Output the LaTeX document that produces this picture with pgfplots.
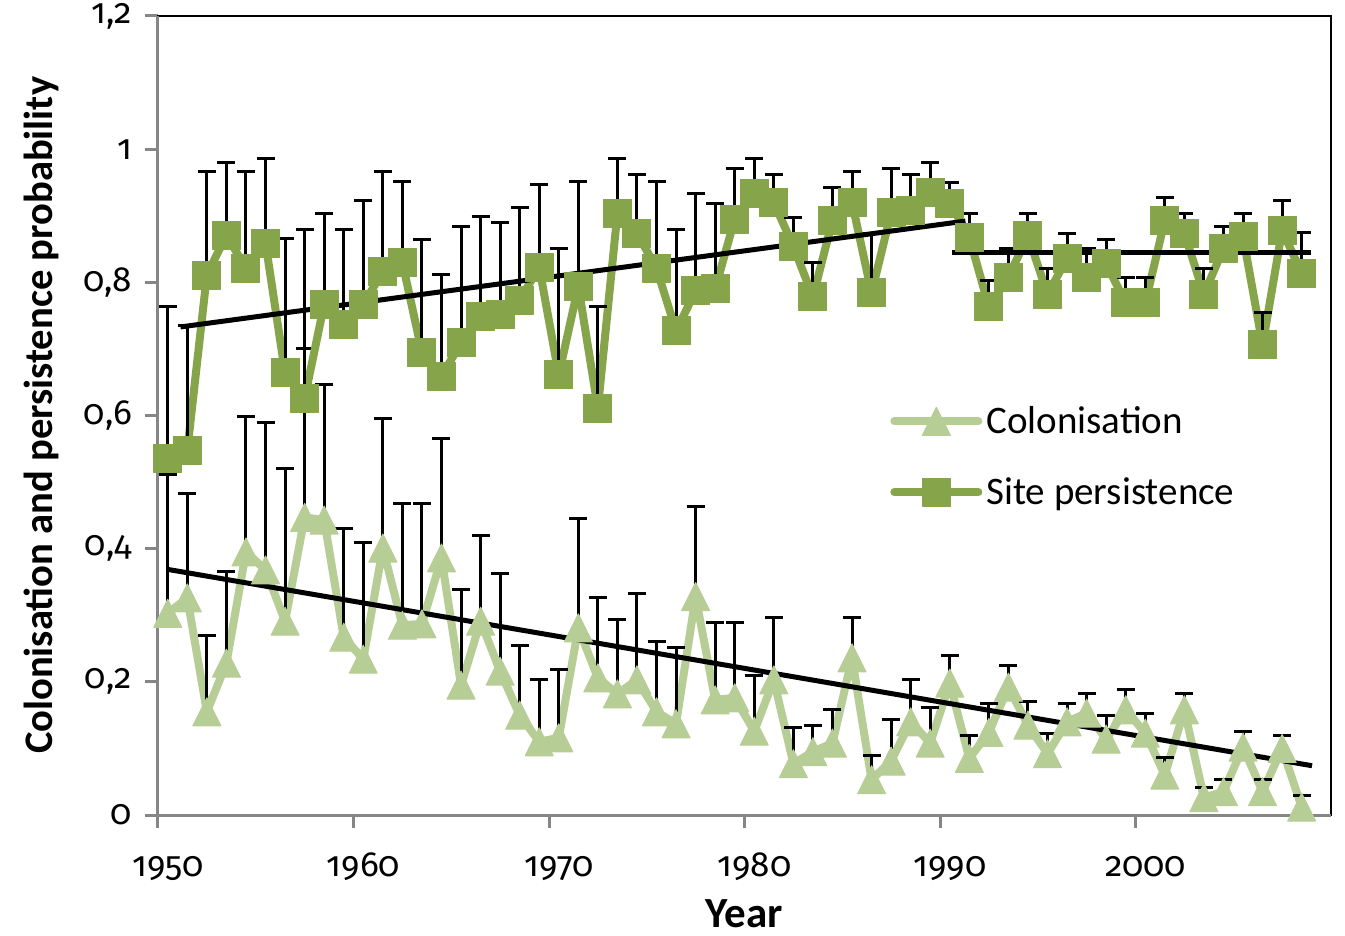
\documentclass[border=0pt]{standalone}
\usepackage{fontspec}
\setmainfont{Carlito}
\newfontfamily\tickfont[Numbers=OldStyle]{Fira Sans}
\usepackage{pgfplots}
\pgfplotsset{compat=1.18}
\usepackage{pgfplotstable}

\definecolor{colgreen}{RGB}{183,205,150}
\definecolor{persgreen}{RGB}{134,164,74}
\definecolor{axisgray}{RGB}{134,134,134}

% isosceles triangle as wide as it is tall, centred on the point
\pgfdeclareplotmark{xltri}{%
  \pgfpathmoveto{\pgfqpoint{0pt}{\pgfplotmarksize}}%
  \pgfpathlineto{\pgfqpoint{-\pgfplotmarksize}{-\pgfplotmarksize}}%
  \pgfpathlineto{\pgfqpoint{\pgfplotmarksize}{-\pgfplotmarksize}}%
  \pgfpathclose\pgfusepathqfillstroke}

% year, mean probability, top of the error bar
\pgfplotstableread{
x y up
1950.5 0.303 0.512
1951.5 0.326 0.483
1952.5 0.155 0.269
1953.5 0.228 0.366
1954.5 0.395 0.599
1955.5 0.368 0.589
1956.5 0.291 0.521
1957.5 0.447 0.700
1958.5 0.443 0.647
1959.5 0.267 0.431
1960.5 0.234 0.410
1961.5 0.401 0.595
1962.5 0.285 0.468
1963.5 0.287 0.468
1964.5 0.386 0.566
1965.5 0.195 0.338
1966.5 0.291 0.420
1967.5 0.216 0.363
1968.5 0.150 0.255
1969.5 0.110 0.203
1970.5 0.116 0.218
1971.5 0.281 0.446
1972.5 0.206 0.327
1973.5 0.182 0.294
1974.5 0.203 0.333
1975.5 0.155 0.260
1976.5 0.137 0.251
1977.5 0.328 0.463
1978.5 0.173 0.289
1979.5 0.176 0.289
1980.5 0.126 0.210
1981.5 0.203 0.296
1982.5 0.077 0.131
1983.5 0.095 0.135
1984.5 0.108 0.159
1985.5 0.236 0.296
1986.5 0.053 0.090
1987.5 0.081 0.144
1988.5 0.140 0.203
1989.5 0.108 0.161
1990.5 0.198 0.240
1991.5 0.085 0.120
1992.5 0.124 0.168
1993.5 0.192 0.225
1994.5 0.135 0.170
1995.5 0.092 0.123
1996.5 0.140 0.168
1997.5 0.153 0.183
1998.5 0.114 0.150
1999.5 0.158 0.188
2000.5 0.123 0.153
2001.5 0.060 0.086
2002.5 0.158 0.183
2003.5 0.026 0.042
2004.5 0.035 0.054
2005.5 0.102 0.125
2006.5 0.035 0.054
2007.5 0.100 0.120
2008.5 0.012 0.029
}\colonisation

\pgfplotstableread{
x y up
1950.5 0.536 0.764
1951.5 0.548 0.735
1952.5 0.811 0.967
1953.5 0.871 0.980
1954.5 0.821 0.967
1955.5 0.859 0.986
1956.5 0.664 0.866
1957.5 0.626 0.880
1958.5 0.767 0.904
1959.5 0.736 0.880
1960.5 0.766 0.923
1961.5 0.817 0.967
1962.5 0.830 0.952
1963.5 0.695 0.865
1964.5 0.659 0.812
1965.5 0.709 0.884
1966.5 0.749 0.899
1967.5 0.751 0.890
1968.5 0.773 0.913
1969.5 0.823 0.947
1970.5 0.661 0.851
1971.5 0.794 0.952
1972.5 0.611 0.764
1973.5 0.904 0.986
1974.5 0.874 0.962
1975.5 0.821 0.952
1976.5 0.727 0.880
1977.5 0.787 0.934
1978.5 0.790 0.919
1979.5 0.895 0.971
1980.5 0.934 0.986
1981.5 0.920 0.962
1982.5 0.854 0.898
1983.5 0.778 0.830
1984.5 0.893 0.943
1985.5 0.920 0.967
1986.5 0.784 0.874
1987.5 0.905 0.971
1988.5 0.908 0.962
1989.5 0.935 0.980
1990.5 0.919 0.950
1991.5 0.868 0.904
1992.5 0.763 0.802
1993.5 0.808 0.851
1994.5 0.870 0.904
1995.5 0.782 0.821
1996.5 0.836 0.874
1997.5 0.808 0.851
1998.5 0.828 0.865
1999.5 0.769 0.808
2000.5 0.769 0.808
2001.5 0.893 0.928
2002.5 0.874 0.904
2003.5 0.782 0.821
2004.5 0.851 0.884
2005.5 0.869 0.904
2006.5 0.706 0.754
2007.5 0.878 0.923
2008.5 0.814 0.875
}\persistence

\begin{document}
\begin{tikzpicture}
\begin{axis}[
  scale only axis,
  width=586.5bp, height=399.5bp,
  xmin=1950, xmax=2010, ymin=0, ymax=1.2,
  xtick={1950,1960,1970,1980,1990,2000},
  xticklabels={1950,1960,1970,1980,1990,2000},
  ytick={0,0.2,0.4,0.6,0.8,1,1.2},
  yticklabels={0,{0,2},{0,4},{0,6},{0,8},1,{1,2}},
  tick align=outside, tick pos=left,
  major tick length=6.5bp,
  tick style={axisgray, line width=1.5bp},
  axis line style={black, line width=1bp},
  ticklabel style={font=\tickfont\fontsize{17.5bp}{20bp}\selectfont},
  xticklabel style={anchor=base, yshift=-24bp, xshift=5bp},
  yticklabel style={anchor=east, xshift=-3bp},
  xlabel={Year},
  ylabel={Colonisation and persistence probability},
  xlabel style={font=\bfseries\fontsize{21.5bp}{25bp}\selectfont,
    at={([yshift=-56bp]rel axis cs:0.5,0)}, anchor=base},
  ylabel style={font=\bfseries\fontsize{20.3bp}{24bp}\selectfont,
    at={([xshift=-58.5bp]rel axis cs:0,0.5)}, anchor=center},
  clip=false,
  legend image code/.code={%
    \draw[mark repeat=2, mark phase=2, line cap=round, #1]
      plot coordinates {(0bp,0bp) (21bp,0bp) (42bp,0bp)};},
  legend style={at={(axis cs:1987.44,0.538)}, anchor=west,
    draw=none, fill=none, inner sep=0pt, row sep=17.5bp,
    font=\fontsize{19.5bp}{23bp}\selectfont,
    nodes={inner xsep=2bp, inner ysep=0pt, text height=15bp, text depth=3bp}},
  legend cell align=left,
  error bars/y dir=plus,
  error bars/y explicit,
  error bars/error bar style={black, line width=1.5bp},
  error bars/error mark options={rotate=90, black, mark size=4.5bp, line width=1.5bp},
]
  \coordinate (bbsw) at (rel axis cs:0,0);
  \coordinate (bbne) at (rel axis cs:1,1);

  \addplot[colgreen, line width=4bp, line join=round,
    mark=xltri, mark size=7bp, mark options={fill=colgreen, draw=colgreen, line width=0.5bp}]
    table[x=x, y=y, y error expr=\thisrow{up}-\thisrow{y}] {\colonisation};
  \addlegendentry{Colonisation}

  \addplot[persgreen, line width=4bp, line join=round,
    mark=square*, mark size=7bp, mark options={fill=persgreen, draw=persgreen, line width=0.5bp}]
    table[x=x, y=y, y error expr=\thisrow{up}-\thisrow{y}] {\persistence};
  \addlegendentry{Site persistence}

  % fitted trends
  \addplot[black, line width=2.5bp, forget plot, no marks, error bars/y dir=none]
    coordinates {(1951.15,0.733) (1991.3,0.892)};
  \addplot[black, line width=2.5bp, forget plot, no marks, error bars/y dir=none]
    coordinates {(1990.6,0.845) (2009.0,0.845)};
  \addplot[black, line width=2.5bp, forget plot, no marks, error bars/y dir=none]
    coordinates {(1950.47,0.369) (2009.03,0.074)};

  \draw[axisgray, line width=1.5bp] (rel axis cs:0,1) -- (rel axis cs:0,0) -- (rel axis cs:1,0);
\end{axis}
\pgfresetboundingbox
\path[use as bounding box] ([xshift=-79bp,yshift=-60.5bp]bbsw) rectangle ([xshift=7bp,yshift=8bp]bbne);
\end{tikzpicture}
\end{document}
